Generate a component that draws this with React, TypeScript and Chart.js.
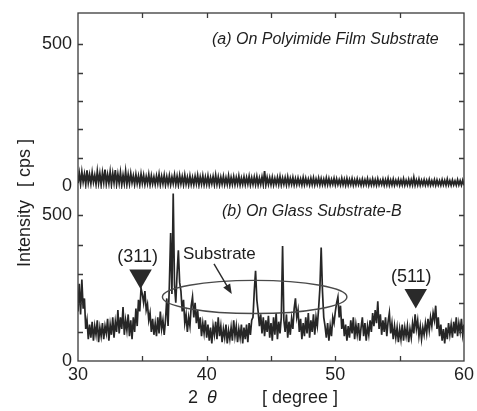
import React, { useEffect, useRef } from 'react';
import { Chart, registerables } from 'chart.js';

Chart.register(...registerables);

// 2θ grid of the scans (degrees)
const THETA_START = 30;
const THETA_STEP = 0.1;

// (b) On Glass Substrate-B, intensity [cps], 30.0 .. 60.0 step 0.1
const glassB = [
  170, 265, 160, 280, 180, 215, 110, 140, 75, 125,
  80, 135, 70, 120, 90, 140, 65, 115, 85, 130,
  75, 120, 95, 145, 70, 125, 90, 150, 80, 135,
  100, 175, 95, 150, 110, 185, 90, 140, 105, 160,
  85, 140, 75, 150, 100, 180, 120, 210, 170, 250,
  230, 200, 240, 175, 195, 140, 165, 100, 145, 90,
  130, 85, 150, 95, 170, 110, 140, 90, 140, 215,
  120, 260, 440, 230, 575, 260, 200, 300, 380, 270,
  240, 170, 210, 130, 160, 100, 150, 120, 190, 220,
  150, 200, 130, 175, 110, 150, 85, 130, 95, 140,
  80, 125, 70, 115, 60, 120, 90, 135, 75, 150,
  85, 120, 65, 110, 80, 125, 60, 105, 75, 115,
  70, 140, 85, 120, 65, 110, 80, 125, 60, 115,
  75, 125, 65, 130, 90, 140, 150, 240, 310, 210,
  170, 120, 160, 95, 150, 85, 140, 100, 155, 80,
  130, 70, 150, 90, 165, 75, 135, 95, 150, 395,
  140, 100, 160, 80, 135, 90, 145, 110, 180, 215,
  150, 175, 100, 145, 75, 130, 85, 150, 95, 165,
  80, 140, 100, 160, 90, 150, 120, 180, 250, 390,
  240, 150, 120, 80, 130, 70, 120, 85, 150, 130,
  170, 200, 220, 150, 190, 110, 145, 85, 125, 70,
  120, 80, 140, 95, 150, 75, 125, 90, 130, 70,
  115, 150, 85, 130, 70, 120, 90, 140, 100, 165,
  120, 175, 130, 205, 110, 160, 90, 140, 100, 150,
  85, 135, 165, 95, 130, 75, 120, 80, 115, 65,
  110, 75, 125, 70, 115, 85, 120, 65, 110, 80,
  130, 95, 160, 110, 140, 85, 120, 75, 115, 90,
  130, 95, 145, 105, 150, 120, 165, 140, 190, 110,
  150, 85, 125, 70, 110, 60, 115, 75, 130, 90,
  125, 80, 135, 95, 150, 85, 130, 100, 145, 90,
  125,
];

// (a) On Polyimide Film Substrate, intensity [cps], 30.0 .. 60.0 step 0.1
const polyimide = [
  10, 45, 8, 50, 15, 42, 6, 55, 12, 40,
  9, 48, 14, 38, 7, 52, 11, 44, 5, 47,
  13, 58, 8, 40, 10, 50, 6, 45, 12, 56,
  7, 42, 10, 48, 5, 38, 9, 52, 6, 40,
  8, 44, 12, 36, 6, 40, 9, 35, 5, 42,
  10, 38, 6, 33, 9, 40, 5, 36, 8, 32,
  6, 35, 9, 41, 5, 34, 8, 38, 4, 33,
  7, 36, 5, 32, 9, 39, 6, 34, 4, 37,
  8, 33, 5, 38, 7, 31, 4, 35, 6, 30,
  5, 34, 8, 37, 4, 32, 7, 36, 5, 31,
  6, 35, 4, 30, 8, 33, 5, 38, 6, 32,
  4, 31, 7, 34, 5, 29, 6, 36, 4, 30,
  6, 33, 5, 30, 7, 35, 4, 28, 6, 32,
  5, 30, 7, 34, 4, 29, 6, 31, 5, 33,
  4, 28, 6, 32, 5, 53, 4, 30, 6, 29,
  5, 31, 4, 27, 6, 30, 5, 33, 4, 28,
  6, 29, 4, 32, 5, 27, 6, 30, 4, 26,
  5, 28, 6, 25, 4, 30, 5, 27, 6, 24,
  4, 27, 5, 29, 4, 25, 6, 28, 4, 26,
  5, 24, 4, 28, 5, 26, 4, 23, 6, 27,
  4, 25, 5, 22, 4, 27, 5, 24, 3, 26,
  4, 23, 5, 26, 3, 22, 4, 25, 5, 21,
  3, 24, 4, 22, 5, 26, 3, 21, 4, 25,
  4, 22, 3, 25, 4, 20, 5, 24, 3, 22,
  4, 26, 3, 21, 4, 24, 3, 20, 5, 23,
  3, 21, 4, 25, 3, 20, 4, 23, 3, 22,
  4, 30, 3, 21, 4, 24, 3, 20, 4, 22,
  3, 20, 4, 23, 3, 19, 4, 22, 3, 21,
  4, 19, 3, 22, 4, 20, 3, 24, 4, 19,
  3, 21, 4, 18, 3, 22, 4, 19, 3, 20,
  3,
];

const xTickValues = [30, 35, 40, 45, 50, 55, 60];
const xTickLabels = ['30', '', '40', '', '50', '', '60'];
const yTickValues = [0, 100, 200, 300, 400, 500];
const yTickLabels = ['0', '', '', '', '', '500'];

// peak markers (triangle centre) in the glass scan
const peakNames = ['(311)', '(511)'];
const peakTheta = [34.86, 56.25];
const peakLevel = [292, 225];
const peakLabelTheta = [34.63, 55.9];
const peakLabelLevel = [358, 287];

// "Substrate" ellipse and arrow (data units of the glass scan)
const ellipseCentre = { x: 43.73, y: 220 };
const ellipseHalf = { x: 7.17, y: 57 };
const arrowFrom = { x: 40.57, y: 334 };
const arrowTo = { x: 41.95, y: 230 };

const FONT = '"Liberation Sans", Arial, sans-serif';
const INK = '#1e1e1e';

const toXY = (vals: number[]) =>
  vals.map((v, i) => ({ x: +(THETA_START + i * THETA_STEP).toFixed(2), y: v }));

const decor = {
  id: 'decor',
  afterDraw(chart: any) {
    const { ctx, chartArea: a } = chart;
    const xs = chart.scales.x;
    const yb = chart.scales.yBot;
    const yt = chart.scales.yTop;
    ctx.save();
    // frame
    ctx.strokeStyle = '#3a3a3a';
    ctx.lineWidth = 1.3;
    ctx.strokeRect(a.left, a.top, a.right - a.left, a.bottom - a.top);
    // inward ticks
    ctx.beginPath();
    xTickValues.forEach((v) => {
      if (v === 30 || v === 60) return;
      const px = Math.round(xs.getPixelForValue(v)) + 0.5;
      ctx.moveTo(px, a.bottom);
      ctx.lineTo(px, a.bottom - 5);
      ctx.moveTo(px, a.top);
      ctx.lineTo(px, a.top + 5);
    });
    [yb, yt].forEach((s: any) => {
      yTickValues.forEach((v) => {
        if (v === 0) return;
        const py = Math.round(s.getPixelForValue(v)) + 0.5;
        ctx.moveTo(a.left, py);
        ctx.lineTo(a.left + 5, py);
        ctx.moveTo(a.right, py);
        ctx.lineTo(a.right - 5, py);
      });
    });
    ctx.stroke();

    ctx.fillStyle = INK;
    ctx.textBaseline = 'middle';
    ctx.textAlign = 'left';
    // panel titles
    ctx.font = `italic 16px ${FONT}`;
    ctx.fillText('(a) On Polyimide Film Substrate', 212, 40);
    ctx.fillText('(b) On Glass Substrate-B', 222, 212);
    // peak labels
    ctx.font = `18px ${FONT}`;
    ctx.textAlign = 'center';
    peakNames.forEach((n, i) => {
      ctx.fillText(n, xs.getPixelForValue(peakLabelTheta[i]), yb.getPixelForValue(peakLabelLevel[i]));
    });
    // Substrate label
    ctx.font = `17px ${FONT}`;
    ctx.textAlign = 'left';
    ctx.fillText('Substrate', 183, 254);

    // ellipse
    const cx = xs.getPixelForValue(ellipseCentre.x);
    const cy = yb.getPixelForValue(ellipseCentre.y);
    const rx = xs.getPixelForValue(ellipseCentre.x + ellipseHalf.x) - cx;
    const ry = cy - yb.getPixelForValue(ellipseCentre.y + ellipseHalf.y);
    ctx.strokeStyle = '#4a4a4a';
    ctx.lineWidth = 1.4;
    ctx.beginPath();
    ctx.ellipse(cx, cy, rx, ry, 0, 0, Math.PI * 2);
    ctx.stroke();
    // arrow
    const x1 = xs.getPixelForValue(arrowFrom.x), y1 = yb.getPixelForValue(arrowFrom.y);
    const x2 = xs.getPixelForValue(arrowTo.x), y2 = yb.getPixelForValue(arrowTo.y);
    const ang = Math.atan2(y2 - y1, x2 - x1);
    ctx.strokeStyle = '#2a2a2a';
    ctx.beginPath();
    ctx.moveTo(x1, y1);
    ctx.lineTo(x2 - 6 * Math.cos(ang), y2 - 6 * Math.sin(ang));
    ctx.stroke();
    ctx.fillStyle = '#2a2a2a';
    ctx.beginPath();
    ctx.moveTo(x2, y2);
    ctx.lineTo(x2 - 10 * Math.cos(ang) + 4 * Math.sin(ang), y2 - 10 * Math.sin(ang) - 4 * Math.cos(ang));
    ctx.lineTo(x2 - 10 * Math.cos(ang) - 4 * Math.sin(ang), y2 - 10 * Math.sin(ang) + 4 * Math.cos(ang));
    ctx.closePath();
    ctx.fill();

    // axis titles
    ctx.fillStyle = INK;
    ctx.font = `18px ${FONT}`;
    ctx.textAlign = 'left';
    ctx.fillText('2', 188, 398);
    ctx.font = `italic 18px ${FONT}`;
    ctx.fillText('θ', 207, 398);
    ctx.font = `18px ${FONT}`;
    ctx.fillText('[ degree ]', 262, 398);
    ctx.save();
    ctx.translate(25, 267);
    ctx.rotate(-Math.PI / 2);
    ctx.fillText('Intensity', 0, 0);
    ctx.fillText('[ cps ]', 80, 0);
    ctx.restore();
    ctx.restore();
  },
};

export default function App() {
  const ref = useRef<HTMLCanvasElement | null>(null);
  useEffect(() => {
    if (!ref.current) return;
    const tickFont = { family: FONT, size: 18 };
    const yCommon = (weight: number, min: number, max: number) => ({
      type: 'linear',
      position: 'left',
      stack: 'left',
      stackWeight: weight,
      min,
      max,
      grid: { display: false, drawTicks: false },
      border: { display: false },
      afterBuildTicks: (s: any) => {
        s.ticks = yTickValues.map((v) => ({ value: v }));
      },
      afterFit: (s: any) => {
        s.width = 78;
        s.paddingTop = 0;
        s.paddingBottom = 0;
      },
      ticks: {
        color: INK,
        font: tickFont,
        padding: 6,
        autoSkip: false,
        callback: (v: any) => {
          const i = yTickValues.indexOf(Number(v));
          return i >= 0 ? yTickLabels[i] : '';
        },
      },
    });
    const chart = new Chart(ref.current, {
      type: 'line',
      data: {
        datasets: [
          {
            label: 'On Glass Substrate-B',
            data: toXY(glassB),
            yAxisID: 'yBot',
            borderColor: '#262626',
            borderWidth: 1.7,
            pointRadius: 0,
            tension: 0,
          },
          {
            label: 'On Polyimide Film Substrate',
            data: toXY(polyimide),
            yAxisID: 'yTop',
            borderColor: '#262626',
            borderWidth: 1.8,
            pointRadius: 0,
            tension: 0,
          },
          {
            label: 'peaks',
            data: peakTheta.map((t, i) => ({ x: t, y: peakLevel[i] })),
            yAxisID: 'yBot',
            showLine: false,
            pointStyle: 'triangle',
            pointRotation: 180,
            pointRadius: 13,
            pointBackgroundColor: '#2a2a2a',
            pointBorderWidth: 0,
            borderWidth: 0,
          } as any,
        ],
      },
      options: {
        animation: false,
        responsive: true,
        maintainAspectRatio: false,
        layout: { padding: { top: 7, right: 10, left: 0, bottom: 0 } },
        plugins: { legend: { display: false }, tooltip: { enabled: false } },
        scales: {
          x: {
            type: 'linear',
            min: 30,
            max: 60,
            grid: { display: false, drawTicks: false },
            border: { display: false },
            afterBuildTicks: (s: any) => {
              s.ticks = xTickValues.map((v) => ({ value: v }));
            },
            afterFit: (s: any) => {
              s.height = 50;
              s.paddingLeft = 0;
              s.paddingRight = 0;
            },
            ticks: {
              color: INK,
              font: tickFont,
              padding: 3,
              autoSkip: false,
              maxRotation: 0,
              callback: (v: any) => {
                const i = xTickValues.indexOf(Number(v));
                return i >= 0 ? xTickLabels[i] : '';
              },
            },
          },
          yBot: yCommon(175, 0, 591),
          yTop: yCommon(179, -10.4, 611),
        } as any,
      },
      plugins: [decor],
    });
    return () => chart.destroy();
  }, []);
  return (
    <div style={{ position: 'absolute', left: 0, top: 0, width: 477, height: 411, background: '#fff' }}>
      <canvas ref={ref} />
    </div>
  );
}
